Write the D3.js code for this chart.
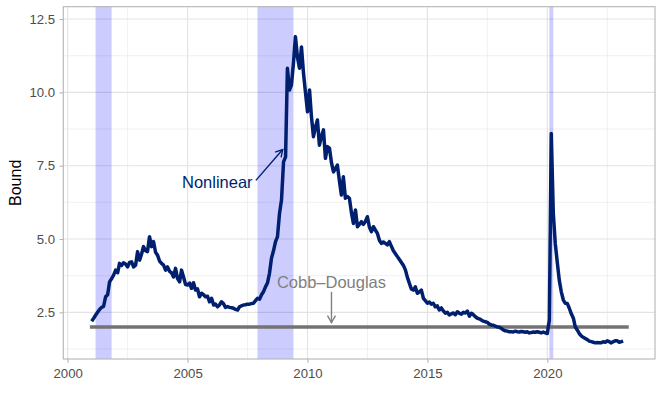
<!DOCTYPE html>
<html>
<head>
<meta charset="utf-8">
<script src="https://cdn.jsdelivr.net/npm/d3@7"></script>
<style>
	body { margin: 0; background: #ffffff; }
	svg text { font-family: 'Liberation Sans', Arial, Helvetica, sans-serif; }
</style>
</head>
<body>
<div id="chart"></div>
<script>
'use strict';

// monthly series, first value is Jan 2001
const firstMonth = '2001-01-01';
const nonlinearValues = [
	2.2, 2.3, 2.4, 2.5, 2.6, 2.67, 2.7, 3.03, 3.1, 3.54, 3.65, 3.77,        // 2001
	3.94, 3.85, 4.17, 4.1, 4.19, 4.15, 4.05, 4.2, 4.22, 4.05, 4.11, 4.57,  // 2002
	4.28, 4.5, 4.74, 4.6, 4.57, 5.08, 4.74, 4.91, 4.55, 4.45, 4.25, 4.17,  // 2003
	4.11, 3.94, 4.05, 3.9, 3.85, 3.71, 4.0, 3.65, 3.54, 3.94, 3.7, 3.45,   // 2004
	3.43, 3.5, 3.32, 3.51, 3.26, 3.3, 3.03, 3.15, 3.1, 3.03, 3.05, 2.86,   // 2005
	2.98, 2.75, 2.78, 2.69, 2.75, 2.86, 2.8, 2.67, 2.7, 2.67, 2.66, 2.64,  // 2006
	2.6, 2.58, 2.69, 2.72, 2.75, 2.76, 2.78, 2.78, 2.8, 2.81, 2.9, 2.98,   // 2007
	2.95, 3.1, 3.2, 3.37, 3.5, 3.83, 4.34, 4.6, 4.91, 5.08, 5.88, 6.33,    // 2008
	7.63, 7.8, 10.82, 10.08, 10.25, 11.0, 11.9, 11.2, 10.82, 11.55, 10.65, 10.0, // 2009
	9.34, 10.08, 9.2, 8.49, 8.8, 9.06, 8.2, 8.5, 8.72, 7.75, 8.15, 8.1,    // 2010
	7.6, 7.29, 7.4, 7.52, 7.0, 6.5, 7.12, 6.39, 6.45, 6.39, 5.9, 5.53,     // 2011
	5.99, 5.42, 5.5, 5.59, 5.5, 5.6, 5.76, 5.4, 5.25, 5.42, 5.3, 5.19,     // 2012
	4.95, 4.85, 4.9, 4.85, 4.8, 4.91, 4.75, 4.6, 4.5, 4.4, 4.3, 4.2,       // 2013
	4.1, 3.94, 3.7, 3.49, 3.3, 3.26, 3.37, 3.15, 3.2, 3.26, 2.98, 2.9,     // 2014
	2.81, 2.85, 2.78, 2.81, 2.69, 2.72, 2.58, 2.65, 2.55, 2.47, 2.5, 2.41, // 2015
	2.45, 2.48, 2.42, 2.52, 2.47, 2.44, 2.5, 2.48, 2.54, 2.37, 2.47, 2.42, // 2016
	2.35, 2.3, 2.28, 2.24, 2.2, 2.18, 2.16, 2.1, 2.07, 2.06, 2.03, 2.0,    // 2017
	1.99, 1.95, 1.9, 1.87, 1.86, 1.84, 1.84, 1.83, 1.86, 1.84, 1.83, 1.85, // 2018
	1.84, 1.82, 1.84, 1.8, 1.81, 1.83, 1.82, 1.84, 1.82, 1.8, 1.83, 1.8,   // 2019
	1.78, 2.24, 8.6, 5.88, 4.85, 4.2, 3.6, 3.2, 2.92, 2.81, 2.8, 2.64,     // 2020
	2.45, 2.3, 2.01, 1.9, 1.78, 1.7, 1.65, 1.61, 1.57, 1.52, 1.5, 1.48,    // 2021
	1.46, 1.47, 1.46, 1.46, 1.5, 1.48, 1.53, 1.5, 1.46, 1.5, 1.53, 1.53,   // 2022
	1.48, 1.5, 1.52                                                         // 2023
];

const cobbDouglasValue = 2.0;
const cobbDouglasSpan = ['2000-12-05', '2023-05-25'];

const recessionStarts = ['2001-03-01', '2007-12-01', '2020-02-01'];
const recessionEnds = ['2001-11-01', '2009-06-01', '2020-04-01'];

const xTickYears = [2000, 2005, 2010, 2015, 2020];
const yTicks = [2.5, 5.0, 7.5, 10.0, 12.5];
const yMinorTicks = [1.25, 3.75, 6.25, 8.75, 11.25];

const noteLabels = ['Nonlinear', 'Cobb\u2013Douglas'];
const noteDates = ['2007-09-18', '2011-01-01'];
const noteValues = [6.95, 3.52];
const arrowFrom = [['2007-11-07', 7.0], ['2011-01-01', 3.2]];
const arrowTo = [['2008-12-19', 8.05], ['2011-01-01', 2.15]];

class boundChart {

	constructor(elementId, options) {
		this.options = {
			'width': 664,
			'height': 409,
			'panel': {left: 63.3, top: 6.7, right: 655, bottom: 359},
			'lineColor': '#001f6e',
			'cdColor': '#737373',
			'noteGray': '#808080',
			'gridColor': '#e3e3e3',
			'borderColor': '#b3b3b3',
			'textColor': '#4d4d4d'
		};
		Object.assign(this.options, options || {});

		let p = this.options.panel;
		this.x = d3.scaleTime()
			.domain([new Date(1999, 9, 27), new Date(2024, 5, 28)])
			.range([p.left, p.right]);
		this.y = d3.scaleLinear()
			.domain([0.91, 12.92])
			.range([p.bottom, p.top]);

		this.parse = d3.timeParse('%Y-%m-%d');
		let start = this.parse(firstMonth);
		this.series = nonlinearValues.map((v, i) => ({date: d3.timeMonth.offset(start, i), value: v}));

		this.svgElem = d3.select('#' + elementId).append('svg')
			.attr('width', this.options.width)
			.attr('height', this.options.height);

		this.drawGrid();
		this.drawBands();
		this.drawLines();
		this.drawNotes();
		this.drawAxis();
	}

	drawGrid() {
		let p = this.options.panel;
		let majorX = xTickYears.map(yr => new Date(yr, 0, 1));
		let minorX = xTickYears.map(yr => new Date((new Date(yr, 0, 1).getTime() + new Date(yr + 5, 0, 1).getTime()) / 2));
		let g = this.svgElem.append('g').attr('class', 'grid');

		g.selectAll('line.minor-y').data(yMinorTicks).enter().append('line')
			.attr('x1', p.left).attr('x2', p.right)
			.attr('y1', d => this.y(d)).attr('y2', d => this.y(d))
			.attr('stroke', this.options.gridColor).attr('stroke-width', 0.55);
		g.selectAll('line.minor-x').data(minorX.filter(d => this.x(d) < p.right)).enter().append('line')
			.attr('y1', p.top).attr('y2', p.bottom)
			.attr('x1', d => this.x(d)).attr('x2', d => this.x(d))
			.attr('stroke', this.options.gridColor).attr('stroke-width', 0.55);
		g.selectAll('line.major-y').data(yTicks).enter().append('line')
			.attr('x1', p.left).attr('x2', p.right)
			.attr('y1', d => this.y(d)).attr('y2', d => this.y(d))
			.attr('stroke', this.options.gridColor).attr('stroke-width', 1.1);
		g.selectAll('line.major-x').data(majorX).enter().append('line')
			.attr('y1', p.top).attr('y2', p.bottom)
			.attr('x1', d => this.x(d)).attr('x2', d => this.x(d))
			.attr('stroke', this.options.gridColor).attr('stroke-width', 1.1);
	}

	drawBands() {
		let p = this.options.panel;
		this.svgElem.append('g').selectAll('rect')
			.data(recessionStarts.map((s, i) => [this.parse(s), this.parse(recessionEnds[i])]))
			.enter().append('rect')
			.attr('x', d => this.x(d[0]))
			.attr('width', d => this.x(d[1]) - this.x(d[0]))
			.attr('y', p.top)
			.attr('height', p.bottom - p.top)
			.attr('fill', 'blue')
			.attr('fill-opacity', 0.2);
	}

	drawLines() {
		// Cobb-Douglas flat bound
		this.svgElem.append('line')
			.attr('x1', this.x(this.parse(cobbDouglasSpan[0])))
			.attr('x2', this.x(this.parse(cobbDouglasSpan[1])))
			.attr('y1', this.y(cobbDouglasValue))
			.attr('y2', this.y(cobbDouglasValue))
			.attr('stroke', this.options.cdColor)
			.attr('stroke-width', 3.4);

		let lineDrawer = d3.line()
			.x(d => this.x(d.date))
			.y(d => this.y(d.value));

		this.svgElem.append('path')
			.attr('d', lineDrawer(this.series))
			.attr('fill', 'none')
			.attr('stroke', this.options.lineColor)
			.attr('stroke-width', 3.5)
			.attr('stroke-linejoin', 'round');
	}

	drawNotes() {
		let colors = [this.options.lineColor, this.options.noteGray];
		let anchors = ['end', 'middle'];
		let defs = this.svgElem.append('defs');
		colors.forEach((c, i) => {
			defs.append('marker')
				.attr('id', 'arrow' + i)
				.attr('markerUnits', 'userSpaceOnUse')
				.attr('viewBox', '-10 -6 12 12')
				.attr('refX', 0).attr('refY', 0)
				.attr('markerWidth', 12).attr('markerHeight', 12)
				.attr('orient', 'auto')
				.append('path')
				.attr('d', 'M-7,-4L0,0L-7,4')
				.attr('fill', 'none')
				.attr('stroke', c)
				.attr('stroke-width', 1.4);
		});

		for (let i in noteLabels) {
			this.svgElem.append('line')
				.attr('x1', this.x(this.parse(arrowFrom[i][0])))
				.attr('y1', this.y(arrowFrom[i][1]))
				.attr('x2', this.x(this.parse(arrowTo[i][0])))
				.attr('y2', this.y(arrowTo[i][1]))
				.attr('stroke', colors[i])
				.attr('stroke-width', 1.4)
				.attr('marker-end', 'url(#arrow' + i + ')');

			this.svgElem.append('text')
				.attr('x', this.x(this.parse(noteDates[i])))
				.attr('y', this.y(noteValues[i]))
				.attr('dy', '0.35em')
				.attr('text-anchor', anchors[i])
				.attr('fill', colors[i])
				.style('font-size', '16.5px')
				.text(noteLabels[i]);
		}
	}

	drawAxis() {
		let p = this.options.panel;

		let xAxis = d3.axisBottom(this.x)
			.tickValues(xTickYears.map(yr => new Date(yr, 0, 1)))
			.tickFormat(d3.timeFormat('%Y'))
			.tickSize(3.7)
			.tickPadding(6.4);
		let gx = this.svgElem.append('g')
			.attr('transform', 'translate(0,' + p.bottom + ')')
			.call(xAxis);

		let yAxis = d3.axisLeft(this.y)
			.tickValues(yTicks)
			.tickFormat(d3.format('.1f'))
			.tickSize(3.7)
			.tickPadding(4.5);
		let gy = this.svgElem.append('g')
			.attr('transform', 'translate(' + p.left + ',0)')
			.call(yAxis);

		[gx, gy].forEach(g => {
			g.select('.domain').remove();
			g.selectAll('.tick line').attr('stroke', this.options.borderColor).attr('stroke-width', 1.07);
			g.selectAll('.tick text')
				.attr('fill', this.options.textColor)
				.style('font-size', '13.2px')
				.style('font-family', "'Liberation Sans', Arial, sans-serif");
		});

		// panel border on top
		this.svgElem.append('rect')
			.attr('x', p.left).attr('y', p.top)
			.attr('width', p.right - p.left).attr('height', p.bottom - p.top)
			.attr('fill', 'none')
			.attr('stroke', this.options.borderColor)
			.attr('stroke-width', 1.07);

		this.svgElem.append('text')
			.attr('transform', 'translate(21,' + ((p.top + p.bottom) / 2) + ') rotate(-90)')
			.attr('text-anchor', 'middle')
			.attr('fill', '#000000')
			.style('font-size', '16px')
			.text('Bound');
	}
}

new boundChart('chart');
</script>
</body>
</html>
